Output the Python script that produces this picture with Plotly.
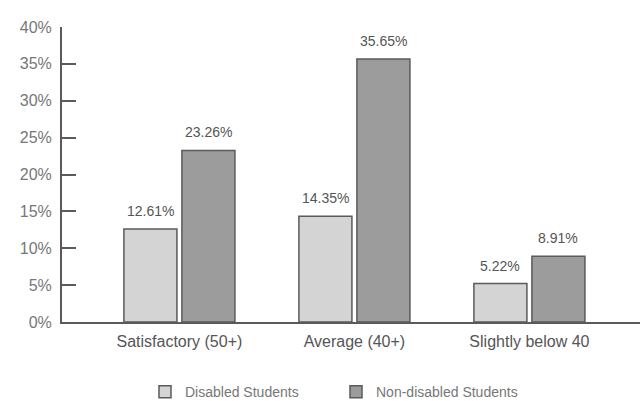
import plotly.graph_objects as go

categories = ["Satisfactory (50+)", "Average (40+)", "Slightly below 40"]
disabled = [12.61, 14.35, 5.22]
non_disabled = [23.26, 35.65, 8.91]
series_names = ["Disabled Students", "Non-disabled Students"]
y_ticks = [0, 5, 10, 15, 20, 25, 30, 35, 40]

fig = go.Figure()
fig.add_trace(go.Bar(
    x=categories, y=disabled, name=series_names[0],
    marker=dict(color="#d4d4d4", line=dict(color="#5a5a5a", width=1.5)),
))
fig.add_trace(go.Bar(
    x=categories, y=non_disabled, name=series_names[1],
    marker=dict(color="#9c9c9c", line=dict(color="#5a5a5a", width=1.5)),
))

for vals, shift in ((disabled, -29), (non_disabled, 29)):
    for c, v in zip(categories, vals):
        fig.add_annotation(x=c, y=v, text=f"{v:.2f}%", showarrow=False,
                           xshift=shift, yshift=18,
                           font=dict(size=14, color="#555555"))

fig.update_layout(
    width=640, height=401,
    margin=dict(l=62, r=0, t=27, b=79, autoexpand=False),
    paper_bgcolor="white", plot_bgcolor="white",
    barmode="group", bargap=0.337, bargroupgap=0.086,
    font=dict(family="Liberation Sans, Arial, sans-serif", color="#555555", size=13),
    showlegend=True,
    legend=dict(orientation="h", x=0.1436, xanchor="left", yref="container",
                y=0.022, yanchor="middle",
                font=dict(size=14, color="#777777"),
                entrywidth=146, entrywidthmode="pixels",
                traceorder="normal"),
)
fig.update_xaxes(
    range=[-0.671, 2.632], showline=True, linecolor="#5a5a5a", linewidth=2,
    showgrid=False, ticks="", tickfont=dict(size=16, color="#555555"),
    ticklabelstandoff=4,
)
fig.update_yaxes(
    range=[0, 40], tickvals=y_ticks, ticktext=[f"{v}%" for v in y_ticks],
    showline=True, linecolor="#5a5a5a", linewidth=2, showgrid=False,
    ticks="inside", ticklen=14, tickwidth=2, tickcolor="#5a5a5a",
    tickfont=dict(size=16, color="#777777"), zeroline=False,
    ticklabelstandoff=5,
)

fig.write_html("out.html")
